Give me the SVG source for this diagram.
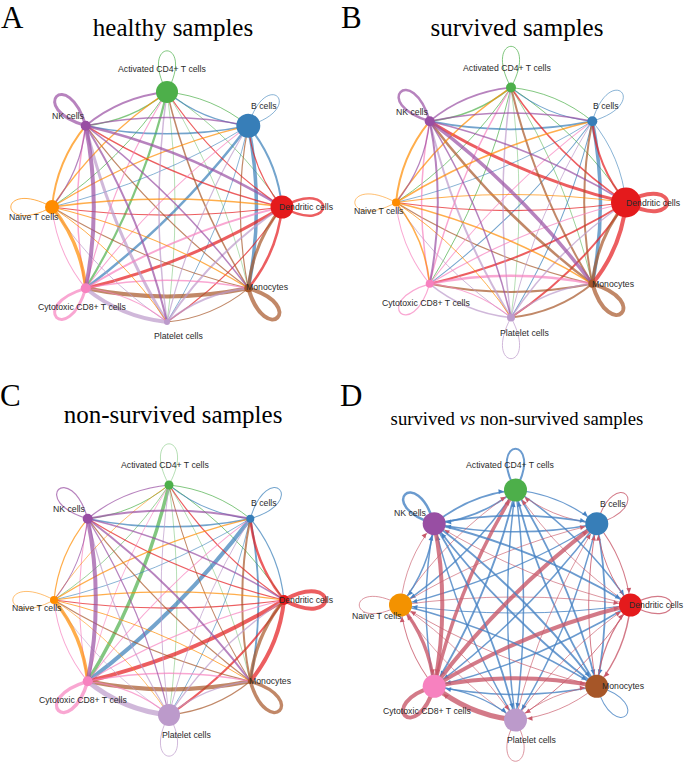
<svg xmlns="http://www.w3.org/2000/svg" width="685" height="769" viewBox="0 0 685 769">
<style>
.e{fill:none;stroke-opacity:.7;stroke-linecap:round}
.c0{stroke:#4DAF4A}.c1{stroke:#377EB8}.c2{stroke:#E41A1C}.c3{stroke:#A65628}
.c4{stroke:#BC9ACB}.c5{stroke:#F781BF}.c6{stroke:#FF8C00}.c7{stroke:#984EA3}
.rb{fill:none;stroke:#4682C3;stroke-opacity:.8;marker-end:url(#mb)}
.rr{fill:none;stroke:#C8596A;stroke-opacity:.8;marker-end:url(#mr)}
.lb{fill:none;stroke:#4682C3;stroke-opacity:.8}
.lr{fill:none;stroke:#C8596A;stroke-opacity:.8}
.lbl{font-family:"Liberation Sans",Arial,sans-serif;font-size:8.7px;fill:#2a2a2a}
.ttl{font-family:"Liberation Serif","Times New Roman",serif;font-size:25px;fill:#000;text-anchor:middle}
.let{font-family:"Liberation Serif","Times New Roman",serif;font-size:31px;fill:#000}
</style>
<defs>
<path id="e1" fill="none" d="M0,-115 Q45.7,-110.4 81.3,-81.3"/>
<path id="e2" fill="none" d="M0,-115 Q69,-69 115,0"/>
<path id="e3" fill="none" d="M0,-115 Q56.4,-23.4 81.3,81.3"/>
<path id="e4" fill="none" d="M0,-115 Q16.1,0 0,115"/>
<path id="e5" fill="none" d="M0,-115 Q-25,-10.3 -81.3,81.3"/>
<path id="e6" fill="none" d="M0,-115 Q-46,-46 -115,0"/>
<path id="e7" fill="none" d="M0,-115 Q-35.6,-86 -81.3,-81.3"/>
<path id="lp" fill="none" d="M0,-115 C-30,-170 30,-170 0,-115"/>
<marker id="mb" markerUnits="userSpaceOnUse" orient="auto" refX="0" refY="0" markerWidth="1" markerHeight="1" overflow="visible"><path d="M-17,-2.4 L-12,0 L-17,2.4 Z" fill="#4682C3"/></marker>
<marker id="mr" markerUnits="userSpaceOnUse" orient="auto" refX="0" refY="0" markerWidth="1" markerHeight="1" overflow="visible"><path d="M-17,-2.4 L-12,0 L-17,2.4 Z" fill="#C8596A"/></marker>
</defs>
<rect width="685" height="769" fill="#fff"/>

<text class="let" x="1" y="28">A</text>
<text class="ttl" x="173" y="36">healthy samples</text>
<text class="let" x="341" y="28">B</text>
<text class="ttl" x="517" y="36">survived samples</text>
<text class="let" x="0" y="406">C</text>
<text class="ttl" x="173" y="423">non-survived samples</text>
<text class="let" x="340" y="406">D</text>
<text class="ttl" x="517" y="425" style="font-size:18.7px">survived <tspan font-style="italic">vs</tspan> non-survived samples</text>

<!-- Panel A -->
<g id="A-connectors" transform="translate(167,207)">
<use href="#e1" transform="rotate(0)" class="e c0" stroke-width="1"/>
<use href="#e2" transform="rotate(0)" class="e c0" stroke-width="0.8"/>
<use href="#e3" transform="rotate(0)" class="e c0" stroke-width="0.6"/>
<use href="#e4" transform="rotate(0)" class="e c0" stroke-width="0.6"/>
<use href="#e5" transform="rotate(0)" class="e c0" stroke-width="2.2"/>
<use href="#e6" transform="rotate(0)" class="e c0" stroke-width="1"/>
<use href="#e7" transform="rotate(0)" class="e c0" stroke-width="1.5"/>
<use href="#e7" transform="rotate(45)" class="e c1" stroke-width="1.2"/>
<use href="#e1" transform="rotate(45)" class="e c1" stroke-width="2"/>
<use href="#e2" transform="rotate(45)" class="e c1" stroke-width="3.5"/>
<use href="#e3" transform="rotate(45)" class="e c1" stroke-width="0.8"/>
<use href="#e4" transform="rotate(45)" class="e c1" stroke-width="2.5"/>
<use href="#e5" transform="rotate(45)" class="e c1" stroke-width="0.8"/>
<use href="#e6" transform="rotate(45)" class="e c1" stroke-width="1.5"/>
<use href="#e6" transform="rotate(90)" class="e c2" stroke-width="1.2"/>
<use href="#e7" transform="rotate(90)" class="e c2" stroke-width="1.2"/>
<use href="#e1" transform="rotate(90)" class="e c2" stroke-width="2.5"/>
<use href="#e2" transform="rotate(90)" class="e c2" stroke-width="1.2"/>
<use href="#e3" transform="rotate(90)" class="e c2" stroke-width="3"/>
<use href="#e4" transform="rotate(90)" class="e c2" stroke-width="1.2"/>
<use href="#e5" transform="rotate(90)" class="e c2" stroke-width="1.5"/>
<use href="#e5" transform="rotate(135)" class="e c3" stroke-width="1.5"/>
<use href="#e6" transform="rotate(135)" class="e c3" stroke-width="1.2"/>
<use href="#e7" transform="rotate(135)" class="e c3" stroke-width="3"/>
<use href="#e1" transform="rotate(135)" class="e c3" stroke-width="1"/>
<use href="#e2" transform="rotate(135)" class="e c3" stroke-width="4"/>
<use href="#e3" transform="rotate(135)" class="e c3" stroke-width="1"/>
<use href="#e4" transform="rotate(135)" class="e c3" stroke-width="1.2"/>
<use href="#e4" transform="rotate(180)" class="e c4" stroke-width="1.5"/>
<use href="#e5" transform="rotate(180)" class="e c4" stroke-width="1.2"/>
<use href="#e6" transform="rotate(180)" class="e c4" stroke-width="2"/>
<use href="#e7" transform="rotate(180)" class="e c4" stroke-width="2"/>
<use href="#e1" transform="rotate(180)" class="e c4" stroke-width="4"/>
<use href="#e2" transform="rotate(180)" class="e c4" stroke-width="1"/>
<use href="#e3" transform="rotate(180)" class="e c4" stroke-width="3"/>
<use href="#e3" transform="rotate(225)" class="e c5" stroke-width="1.2"/>
<use href="#e4" transform="rotate(225)" class="e c5" stroke-width="1"/>
<use href="#e5" transform="rotate(225)" class="e c5" stroke-width="2"/>
<use href="#e6" transform="rotate(225)" class="e c5" stroke-width="1.5"/>
<use href="#e7" transform="rotate(225)" class="e c5" stroke-width="1"/>
<use href="#e1" transform="rotate(225)" class="e c5" stroke-width="1"/>
<use href="#e2" transform="rotate(225)" class="e c5" stroke-width="1.5"/>
<use href="#e2" transform="rotate(270)" class="e c6" stroke-width="1.5"/>
<use href="#e3" transform="rotate(270)" class="e c6" stroke-width="1.2"/>
<use href="#e4" transform="rotate(270)" class="e c6" stroke-width="1.5"/>
<use href="#e5" transform="rotate(270)" class="e c6" stroke-width="1.2"/>
<use href="#e6" transform="rotate(270)" class="e c6" stroke-width="1"/>
<use href="#e7" transform="rotate(270)" class="e c6" stroke-width="3.5"/>
<use href="#e1" transform="rotate(270)" class="e c6" stroke-width="2"/>
<use href="#e1" transform="rotate(315)" class="e c7" stroke-width="2"/>
<use href="#e2" transform="rotate(315)" class="e c7" stroke-width="1.5"/>
<use href="#e3" transform="rotate(315)" class="e c7" stroke-width="2.5"/>
<use href="#e4" transform="rotate(315)" class="e c7" stroke-width="1.5"/>
<use href="#e5" transform="rotate(315)" class="e c7" stroke-width="2"/>
<use href="#e6" transform="rotate(315)" class="e c7" stroke-width="4"/>
<use href="#e7" transform="rotate(315)" class="e c7" stroke-width="1.2"/>
<use href="#lp" transform="rotate(0)" class="e c0" stroke-width="1"/>
<use href="#lp" transform="rotate(45)" class="e c1" stroke-width="0.8"/>
<use href="#lp" transform="rotate(90)" class="e c2" stroke-width="2.5"/>
<use href="#lp" transform="rotate(135)" class="e c3" stroke-width="4"/>
<use href="#lp" transform="rotate(225)" class="e c5" stroke-width="3"/>
<use href="#lp" transform="rotate(270)" class="e c6" stroke-width="1"/>
<use href="#lp" transform="rotate(315)" class="e c7" stroke-width="3"/>
</g>
<g id="A-act"><circle cx="167" cy="92" r="11" fill="#4DAF4A"/><text class="lbl" x="118" y="72">Activated CD4+ T cells</text></g>
<g id="A-b"><circle cx="248.3" cy="125.7" r="12" fill="#377EB8"/><text class="lbl" x="251" y="109">B cells</text></g>
<g id="A-dc"><circle cx="282" cy="207" r="11.5" fill="#E41A1C"/><text class="lbl" x="279" y="210">Dendritic cells</text></g>
<g id="A-mono"><circle cx="248.3" cy="288.3" r="4" fill="#A65628"/><text class="lbl" x="246" y="290">Monocytes</text></g>
<g id="A-plt"><circle cx="167" cy="322" r="3" fill="#BC9ACB"/><text class="lbl" x="154" y="339">Platelet cells</text></g>
<g id="A-cyto"><circle cx="85.7" cy="288.3" r="5" fill="#F781BF"/><text class="lbl" x="38" y="310">Cytotoxic CD8+ T cells</text></g>
<g id="A-naive"><circle cx="52" cy="207" r="7" fill="#FF8C00"/><text class="lbl" x="9" y="220">Naive T cells</text></g>
<g id="A-nk"><circle cx="85.7" cy="125.7" r="5" fill="#984EA3"/><text class="lbl" x="52" y="119">NK cells</text></g>

<!-- Panel B -->
<g id="B-connectors" transform="translate(511,202.5)">
<use href="#e1" transform="rotate(0)" class="e c0" stroke-width="1"/>
<use href="#e2" transform="rotate(0)" class="e c0" stroke-width="1"/>
<use href="#e3" transform="rotate(0)" class="e c0" stroke-width="0.8"/>
<use href="#e4" transform="rotate(0)" class="e c0" stroke-width="0.6"/>
<use href="#e5" transform="rotate(0)" class="e c0" stroke-width="1"/>
<use href="#e6" transform="rotate(0)" class="e c0" stroke-width="1"/>
<use href="#e7" transform="rotate(0)" class="e c0" stroke-width="1.5"/>
<use href="#e7" transform="rotate(45)" class="e c1" stroke-width="1"/>
<use href="#e1" transform="rotate(45)" class="e c1" stroke-width="0.8"/>
<use href="#e2" transform="rotate(45)" class="e c1" stroke-width="3.5"/>
<use href="#e3" transform="rotate(45)" class="e c1" stroke-width="1"/>
<use href="#e4" transform="rotate(45)" class="e c1" stroke-width="1"/>
<use href="#e5" transform="rotate(45)" class="e c1" stroke-width="0.8"/>
<use href="#e6" transform="rotate(45)" class="e c1" stroke-width="1.8"/>
<use href="#e6" transform="rotate(90)" class="e c2" stroke-width="1.5"/>
<use href="#e7" transform="rotate(90)" class="e c2" stroke-width="2"/>
<use href="#e1" transform="rotate(90)" class="e c2" stroke-width="4"/>
<use href="#e2" transform="rotate(90)" class="e c2" stroke-width="2"/>
<use href="#e3" transform="rotate(90)" class="e c2" stroke-width="2"/>
<use href="#e4" transform="rotate(90)" class="e c2" stroke-width="1.2"/>
<use href="#e5" transform="rotate(90)" class="e c2" stroke-width="3"/>
<use href="#e5" transform="rotate(135)" class="e c3" stroke-width="2"/>
<use href="#e6" transform="rotate(135)" class="e c3" stroke-width="2"/>
<use href="#e7" transform="rotate(135)" class="e c3" stroke-width="3"/>
<use href="#e1" transform="rotate(135)" class="e c3" stroke-width="2"/>
<use href="#e2" transform="rotate(135)" class="e c3" stroke-width="2"/>
<use href="#e3" transform="rotate(135)" class="e c3" stroke-width="1.2"/>
<use href="#e4" transform="rotate(135)" class="e c3" stroke-width="2.5"/>
<use href="#e4" transform="rotate(180)" class="e c4" stroke-width="1.5"/>
<use href="#e5" transform="rotate(180)" class="e c4" stroke-width="1"/>
<use href="#e6" transform="rotate(180)" class="e c4" stroke-width="1.5"/>
<use href="#e7" transform="rotate(180)" class="e c4" stroke-width="1.5"/>
<use href="#e1" transform="rotate(180)" class="e c4" stroke-width="1.5"/>
<use href="#e2" transform="rotate(180)" class="e c4" stroke-width="1"/>
<use href="#e3" transform="rotate(180)" class="e c4" stroke-width="2"/>
<use href="#e3" transform="rotate(225)" class="e c5" stroke-width="1.5"/>
<use href="#e4" transform="rotate(225)" class="e c5" stroke-width="1"/>
<use href="#e5" transform="rotate(225)" class="e c5" stroke-width="1.2"/>
<use href="#e6" transform="rotate(225)" class="e c5" stroke-width="2.5"/>
<use href="#e7" transform="rotate(225)" class="e c5" stroke-width="1"/>
<use href="#e1" transform="rotate(225)" class="e c5" stroke-width="1"/>
<use href="#e2" transform="rotate(225)" class="e c5" stroke-width="1.5"/>
<use href="#e2" transform="rotate(270)" class="e c6" stroke-width="1.5"/>
<use href="#e3" transform="rotate(270)" class="e c6" stroke-width="1.5"/>
<use href="#e4" transform="rotate(270)" class="e c6" stroke-width="1"/>
<use href="#e5" transform="rotate(270)" class="e c6" stroke-width="1.5"/>
<use href="#e6" transform="rotate(270)" class="e c6" stroke-width="1"/>
<use href="#e7" transform="rotate(270)" class="e c6" stroke-width="1.5"/>
<use href="#e1" transform="rotate(270)" class="e c6" stroke-width="2"/>
<use href="#e1" transform="rotate(315)" class="e c7" stroke-width="1.5"/>
<use href="#e2" transform="rotate(315)" class="e c7" stroke-width="1.5"/>
<use href="#e3" transform="rotate(315)" class="e c7" stroke-width="1.5"/>
<use href="#e4" transform="rotate(315)" class="e c7" stroke-width="3.5"/>
<use href="#e5" transform="rotate(315)" class="e c7" stroke-width="1.5"/>
<use href="#e6" transform="rotate(315)" class="e c7" stroke-width="2"/>
<use href="#e7" transform="rotate(315)" class="e c7" stroke-width="1.2"/>
<use href="#lp" transform="rotate(0)" class="e c0" stroke-width="1"/>
<use href="#lp" transform="rotate(45)" class="e c1" stroke-width="0.8"/>
<use href="#lp" transform="rotate(90)" class="e c2" stroke-width="4"/>
<use href="#lp" transform="rotate(135)" class="e c3" stroke-width="4"/>
<use href="#lp" transform="rotate(180)" class="e c4" stroke-width="1"/>
<use href="#lp" transform="rotate(225)" class="e c5" stroke-width="1.2"/>
<use href="#lp" transform="rotate(270)" class="e c6" stroke-width="0.8"/>
<use href="#lp" transform="rotate(315)" class="e c7" stroke-width="2.5"/>
</g>
<g id="B-act"><circle cx="511" cy="87.5" r="5" fill="#4DAF4A"/><text class="lbl" x="463" y="71">Activated CD4+ T cells</text></g>
<g id="B-b"><circle cx="592.3" cy="121.2" r="5" fill="#377EB8"/><text class="lbl" x="593" y="109">B cells</text></g>
<g id="B-dc"><circle cx="626" cy="202.5" r="15" fill="#E41A1C"/><text class="lbl" x="626" y="206">Dendritic cells</text></g>
<g id="B-mono"><circle cx="592.3" cy="283.8" r="4" fill="#A65628"/><text class="lbl" x="592" y="287">Monocytes</text></g>
<g id="B-plt"><circle cx="511" cy="317.5" r="4" fill="#BC9ACB"/><text class="lbl" x="500" y="336">Platelet cells</text></g>
<g id="B-cyto"><circle cx="429.7" cy="283.8" r="4" fill="#F781BF"/><text class="lbl" x="382" y="306">Cytotoxic CD8+ T cells</text></g>
<g id="B-naive"><circle cx="396" cy="202.5" r="4" fill="#FF8C00"/><text class="lbl" x="354" y="214">Naive T cells</text></g>
<g id="B-nk"><circle cx="429.7" cy="121.2" r="5" fill="#984EA3"/><text class="lbl" x="396" y="115">NK cells</text></g>

<!-- Panel C -->
<g id="C-connectors" transform="translate(169,600)">
<use href="#e1" transform="rotate(0)" class="e c0" stroke-width="1"/>
<use href="#e2" transform="rotate(0)" class="e c0" stroke-width="1"/>
<use href="#e3" transform="rotate(0)" class="e c0" stroke-width="0.6"/>
<use href="#e4" transform="rotate(0)" class="e c0" stroke-width="0.6"/>
<use href="#e5" transform="rotate(0)" class="e c0" stroke-width="3.5"/>
<use href="#e6" transform="rotate(0)" class="e c0" stroke-width="0.8"/>
<use href="#e7" transform="rotate(0)" class="e c0" stroke-width="1"/>
<use href="#e7" transform="rotate(45)" class="e c1" stroke-width="1"/>
<use href="#e1" transform="rotate(45)" class="e c1" stroke-width="1.2"/>
<use href="#e2" transform="rotate(45)" class="e c1" stroke-width="1.8"/>
<use href="#e3" transform="rotate(45)" class="e c1" stroke-width="0.8"/>
<use href="#e4" transform="rotate(45)" class="e c1" stroke-width="4"/>
<use href="#e5" transform="rotate(45)" class="e c1" stroke-width="0.8"/>
<use href="#e6" transform="rotate(45)" class="e c1" stroke-width="1.5"/>
<use href="#e6" transform="rotate(90)" class="e c2" stroke-width="1.2"/>
<use href="#e7" transform="rotate(90)" class="e c2" stroke-width="2.5"/>
<use href="#e1" transform="rotate(90)" class="e c2" stroke-width="4"/>
<use href="#e2" transform="rotate(90)" class="e c2" stroke-width="2"/>
<use href="#e3" transform="rotate(90)" class="e c2" stroke-width="4"/>
<use href="#e4" transform="rotate(90)" class="e c2" stroke-width="1.2"/>
<use href="#e5" transform="rotate(90)" class="e c2" stroke-width="1.2"/>
<use href="#e5" transform="rotate(135)" class="e c3" stroke-width="1"/>
<use href="#e6" transform="rotate(135)" class="e c3" stroke-width="2"/>
<use href="#e7" transform="rotate(135)" class="e c3" stroke-width="3.5"/>
<use href="#e1" transform="rotate(135)" class="e c3" stroke-width="1.2"/>
<use href="#e2" transform="rotate(135)" class="e c3" stroke-width="4"/>
<use href="#e3" transform="rotate(135)" class="e c3" stroke-width="1.2"/>
<use href="#e4" transform="rotate(135)" class="e c3" stroke-width="1.2"/>
<use href="#e4" transform="rotate(180)" class="e c4" stroke-width="1"/>
<use href="#e5" transform="rotate(180)" class="e c4" stroke-width="1"/>
<use href="#e6" transform="rotate(180)" class="e c4" stroke-width="1.2"/>
<use href="#e7" transform="rotate(180)" class="e c4" stroke-width="1.2"/>
<use href="#e1" transform="rotate(180)" class="e c4" stroke-width="5"/>
<use href="#e2" transform="rotate(180)" class="e c4" stroke-width="0.8"/>
<use href="#e3" transform="rotate(180)" class="e c4" stroke-width="1.2"/>
<use href="#e3" transform="rotate(225)" class="e c5" stroke-width="0.8"/>
<use href="#e4" transform="rotate(225)" class="e c5" stroke-width="1"/>
<use href="#e5" transform="rotate(225)" class="e c5" stroke-width="1.2"/>
<use href="#e6" transform="rotate(225)" class="e c5" stroke-width="1.5"/>
<use href="#e7" transform="rotate(225)" class="e c5" stroke-width="1.2"/>
<use href="#e1" transform="rotate(225)" class="e c5" stroke-width="1"/>
<use href="#e2" transform="rotate(225)" class="e c5" stroke-width="1"/>
<use href="#e2" transform="rotate(270)" class="e c6" stroke-width="0.8"/>
<use href="#e3" transform="rotate(270)" class="e c6" stroke-width="1.2"/>
<use href="#e4" transform="rotate(270)" class="e c6" stroke-width="1.2"/>
<use href="#e5" transform="rotate(270)" class="e c6" stroke-width="1"/>
<use href="#e6" transform="rotate(270)" class="e c6" stroke-width="0.8"/>
<use href="#e7" transform="rotate(270)" class="e c6" stroke-width="3.5"/>
<use href="#e1" transform="rotate(270)" class="e c6" stroke-width="1.2"/>
<use href="#e1" transform="rotate(315)" class="e c7" stroke-width="1.2"/>
<use href="#e2" transform="rotate(315)" class="e c7" stroke-width="2"/>
<use href="#e3" transform="rotate(315)" class="e c7" stroke-width="1.5"/>
<use href="#e4" transform="rotate(315)" class="e c7" stroke-width="2"/>
<use href="#e5" transform="rotate(315)" class="e c7" stroke-width="1.2"/>
<use href="#e6" transform="rotate(315)" class="e c7" stroke-width="4"/>
<use href="#e7" transform="rotate(315)" class="e c7" stroke-width="1"/>
<use href="#lp" transform="rotate(0)" class="e c0" stroke-width="0.6"/>
<use href="#lp" transform="rotate(45)" class="e c1" stroke-width="1"/>
<use href="#lp" transform="rotate(90)" class="e c2" stroke-width="4"/>
<use href="#lp" transform="rotate(135)" class="e c3" stroke-width="3.5"/>
<use href="#lp" transform="rotate(180)" class="e c4" stroke-width="1"/>
<use href="#lp" transform="rotate(225)" class="e c5" stroke-width="3.5"/>
<use href="#lp" transform="rotate(270)" class="e c6" stroke-width="0.8"/>
<use href="#lp" transform="rotate(315)" class="e c7" stroke-width="1.2"/>
</g>
<g id="C-act"><circle cx="169" cy="485" r="4.5" fill="#4DAF4A"/><text class="lbl" x="121" y="468">Activated CD4+ T cells</text></g>
<g id="C-b"><circle cx="250.3" cy="518.7" r="4" fill="#377EB8"/><text class="lbl" x="251" y="506">B cells</text></g>
<g id="C-dc"><circle cx="284" cy="600" r="5" fill="#E41A1C"/><text class="lbl" x="279" y="603">Dendritic cells</text></g>
<g id="C-mono"><circle cx="250.3" cy="681.3" r="2.5" fill="#A65628"/><text class="lbl" x="249" y="684">Monocytes</text></g>
<g id="C-plt"><circle cx="169" cy="715" r="11" fill="#BC9ACB"/><text class="lbl" x="162" y="738">Platelet cells</text></g>
<g id="C-cyto"><circle cx="87.7" cy="681.3" r="5" fill="#F781BF"/><text class="lbl" x="39" y="703">Cytotoxic CD8+ T cells</text></g>
<g id="C-naive"><circle cx="54" cy="600" r="4" fill="#FF8C00"/><text class="lbl" x="12" y="611">Naive T cells</text></g>
<g id="C-nk"><circle cx="87.7" cy="518.7" r="5" fill="#984EA3"/><text class="lbl" x="53" y="512">NK cells</text></g>

<!-- Panel D -->
<g id="D-connectors" transform="translate(515.5,605)">
<use href="#e1" transform="rotate(0)" class="rb" stroke-width="1.2"/>
<use href="#e2" transform="rotate(0)" class="rb" stroke-width="1.5"/>
<use href="#e3" transform="rotate(0)" class="rb" stroke-width="1.8"/>
<use href="#e4" transform="rotate(0)" class="rb" stroke-width="1.5"/>
<use href="#e5" transform="rotate(0)" class="rb" stroke-width="1.8"/>
<use href="#e6" transform="rotate(0)" class="rb" stroke-width="1.5"/>
<use href="#e7" transform="rotate(0)" class="rb" stroke-width="1.8"/>
<use href="#e7" transform="rotate(45)" class="rr" stroke-width="0.8"/>
<use href="#e1" transform="rotate(45)" class="rr" stroke-width="1"/>
<use href="#e2" transform="rotate(45)" class="rb" stroke-width="1.8"/>
<use href="#e3" transform="rotate(45)" class="rb" stroke-width="1.5"/>
<use href="#e4" transform="rotate(45)" class="rb" stroke-width="1.5"/>
<use href="#e5" transform="rotate(45)" class="rb" stroke-width="1.2"/>
<use href="#e6" transform="rotate(45)" class="rb" stroke-width="1.5"/>
<use href="#e6" transform="rotate(90)" class="rr" stroke-width="0.8"/>
<use href="#e7" transform="rotate(90)" class="rr" stroke-width="1"/>
<use href="#e1" transform="rotate(90)" class="rr" stroke-width="1.5"/>
<use href="#e2" transform="rotate(90)" class="rr" stroke-width="1"/>
<use href="#e3" transform="rotate(90)" class="rb" stroke-width="1.5"/>
<use href="#e4" transform="rotate(90)" class="rb" stroke-width="1"/>
<use href="#e5" transform="rotate(90)" class="rr" stroke-width="0.8"/>
<use href="#e5" transform="rotate(135)" class="rb" stroke-width="1.8"/>
<use href="#e6" transform="rotate(135)" class="rr" stroke-width="1"/>
<use href="#e7" transform="rotate(135)" class="rr" stroke-width="1.2"/>
<use href="#e1" transform="rotate(135)" class="rr" stroke-width="0.8"/>
<use href="#e2" transform="rotate(135)" class="rb" stroke-width="1.5"/>
<use href="#e3" transform="rotate(135)" class="rr" stroke-width="0.8"/>
<use href="#e4" transform="rotate(135)" class="rb" stroke-width="1.8"/>
<use href="#e4" transform="rotate(180)" class="rb" stroke-width="1.5"/>
<use href="#e5" transform="rotate(180)" class="rr" stroke-width="0.8"/>
<use href="#e6" transform="rotate(180)" class="rr" stroke-width="0.8"/>
<use href="#e7" transform="rotate(180)" class="rr" stroke-width="0.8"/>
<use href="#e1" transform="rotate(180)" class="rr" stroke-width="5"/>
<use href="#e2" transform="rotate(180)" class="rr" stroke-width="0.7"/>
<use href="#e3" transform="rotate(180)" class="rb" stroke-width="1.5"/>
<use href="#e3" transform="rotate(225)" class="rr" stroke-width="3.5"/>
<use href="#e4" transform="rotate(225)" class="rr" stroke-width="4"/>
<use href="#e5" transform="rotate(225)" class="rr" stroke-width="4"/>
<use href="#e6" transform="rotate(225)" class="rr" stroke-width="4"/>
<use href="#e7" transform="rotate(225)" class="rb" stroke-width="1.2"/>
<use href="#e1" transform="rotate(225)" class="rr" stroke-width="1"/>
<use href="#e2" transform="rotate(225)" class="rb" stroke-width="1.5"/>
<use href="#e2" transform="rotate(270)" class="rr" stroke-width="0.8"/>
<use href="#e3" transform="rotate(270)" class="rr" stroke-width="0.8"/>
<use href="#e4" transform="rotate(270)" class="rr" stroke-width="0.8"/>
<use href="#e5" transform="rotate(270)" class="rb" stroke-width="1.5"/>
<use href="#e6" transform="rotate(270)" class="rr" stroke-width="0.8"/>
<use href="#e7" transform="rotate(270)" class="rr" stroke-width="3.5"/>
<use href="#e1" transform="rotate(270)" class="rr" stroke-width="0.8"/>
<use href="#e1" transform="rotate(315)" class="rb" stroke-width="1.8"/>
<use href="#e2" transform="rotate(315)" class="rb" stroke-width="1.8"/>
<use href="#e3" transform="rotate(315)" class="rb" stroke-width="2"/>
<use href="#e4" transform="rotate(315)" class="rb" stroke-width="2"/>
<use href="#e5" transform="rotate(315)" class="rb" stroke-width="1.8"/>
<use href="#e6" transform="rotate(315)" class="rr" stroke-width="4"/>
<use href="#e7" transform="rotate(315)" class="rb" stroke-width="1.5"/>
<use href="#lp" transform="rotate(0)" class="lb" stroke-width="2"/>
<use href="#lp" transform="rotate(45)" class="lr" stroke-width="1"/>
<use href="#lp" transform="rotate(90)" class="lr" stroke-width="1.2"/>
<use href="#lp" transform="rotate(135)" class="lb" stroke-width="1"/>
<use href="#lp" transform="rotate(180)" class="lr" stroke-width="0.8"/>
<use href="#lp" transform="rotate(225)" class="lr" stroke-width="4"/>
<use href="#lp" transform="rotate(270)" class="lr" stroke-width="0.8"/>
<use href="#lp" transform="rotate(315)" class="lb" stroke-width="2.5"/>
</g>
<g id="D-act"><circle cx="515.5" cy="490" r="11.5" fill="#4DAF4A"/><text class="lbl" x="466" y="468">Activated CD4+ T cells</text></g>
<g id="D-b"><circle cx="596.8" cy="523.7" r="11.5" fill="#377EB8"/><text class="lbl" x="600" y="507">B cells</text></g>
<g id="D-dc"><circle cx="630.5" cy="605" r="11.5" fill="#E41A1C"/><text class="lbl" x="629" y="608">Dendritic cells</text></g>
<g id="D-mono"><circle cx="596.8" cy="686.3" r="11.5" fill="#A65628"/><text class="lbl" x="602" y="689">Monocytes</text></g>
<g id="D-plt"><circle cx="515.5" cy="720" r="11.5" fill="#BC9ACB"/><text class="lbl" x="507" y="743">Platelet cells</text></g>
<g id="D-cyto"><circle cx="434.2" cy="686.3" r="11.5" fill="#F781BF"/><text class="lbl" x="383" y="714">Cytotoxic CD8+ T cells</text></g>
<g id="D-naive"><circle cx="400.5" cy="605" r="11.5" fill="#F39200"/><text class="lbl" x="352" y="619">Naive T cells</text></g>
<g id="D-nk"><circle cx="434.2" cy="523.7" r="11.5" fill="#984EA3"/><text class="lbl" x="394" y="516">NK cells</text></g>
</svg>
